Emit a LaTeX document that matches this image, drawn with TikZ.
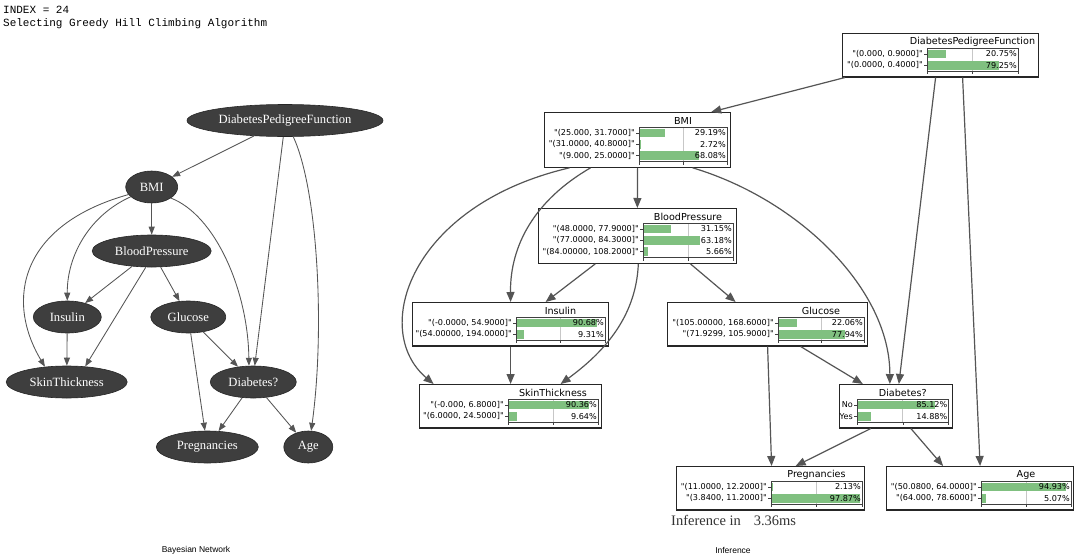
\documentclass[tikz,border=0pt]{standalone}
\usepackage{fontspec}
\setmainfont{Liberation Serif}
\newfontfamily\cpdfont[Ligatures=TeXOff]{DejaVu Sans}
\newfontfamily\codefont{Liberation Mono}
\newfontfamily\capfont{Liberation Sans}
\usetikzlibrary{shapes.geometric,arrows.meta}

\definecolor{bnfill}{HTML}{3E3E3E}
\definecolor{edgegray}{HTML}{555555}
\definecolor{bargreen}{RGB}{128,192,128}

\tikzset{
  bnnode/.style={ellipse, fill=bnfill, draw=black!85, line width=0.6pt, text=white,
    font=\fontsize{12.6}{14}\selectfont, inner sep=0pt, minimum height=32pt},
  bnedge/.style={draw=edgegray, line width=0.85pt, -{Triangle[length=8pt,width=6pt]}},
  rarrow/.style={draw=edgegray, line width=1.2pt, -{Triangle[length=10pt,width=8pt]}},
  cpdbox/.style={rectangle, draw=black!85, line width=1.2pt, fill=white, inner sep=0pt},
  cpdgrid/.style={draw=black!22, line width=0.7pt},
  cpdbar/.style={fill=bargreen},
  cpdaxis/.style={draw=black!75, line width=0.5pt},
  cpdlabel/.style={font=\cpdfont\fontsize{8.1}{10}\selectfont, inner sep=0pt},
  cpdtitle/.style={font=\cpdfont\fontsize{9.6}{11}\selectfont, inner sep=0pt},
}

% conditional probability table: name, left, top, right, axis left, axis right,
% title, number of rows, rows as {label}/percent
\newcommand\cpdtable[9]{%
  \pgfmathsetmacro\cpdbot{#3+21+11.3*(#8-1)+11}%
  \pgfmathsetmacro\cpdw{#4-#2}%
  \pgfmathsetmacro\cpdh{\cpdbot-#3}%
  \pgfmathsetmacro\cpdmid{(#5+#6)/2}%
  \pgfmathsetmacro\cpdtop{#3+15}%
  \pgfmathsetmacro\cpdax{#3+21+11.3*(#8-1)+6}%
  \node[cpdbox, minimum width=\cpdw pt, minimum height=\cpdh pt, anchor=north west] (#1) at (#2,#3) {};
  \draw[cpdgrid] (\cpdmid,\cpdtop) -- (\cpdmid,\cpdax);
  \foreach \lab/\pct [count=\i from 0] in {#9} {
    \pgfmathsetmacro\cpdy{#3+21+11.3*\i}
    \fill[cpdbar] (#5,\cpdy-4.3) rectangle ({#5+\pct/100*(#6-#5)},\cpdy+4.3);
    \draw[cpdaxis] (#5-3,\cpdy) -- (#5,\cpdy);
    \node[cpdlabel, anchor=east] at (#5-4,\cpdy) {\lab};
    \node[cpdlabel, anchor=east] at (#6-1,\cpdy) {\pct\%};
  }
  \draw[cpdaxis] (#5,\cpdtop) rectangle (#6,\cpdax);
  \foreach \xx in {#5,\cpdmid,#6} \draw[cpdaxis] (\xx,\cpdax) -- (\xx,\cpdax+3);
  \node[cpdtitle] at (\cpdmid,#3+9) {#7};
}

\begin{document}
\begin{tikzpicture}[x=1pt,y=-1pt]
\useasboundingbox (0,0) rectangle (1080,557);
\fill[white] (0,0) rectangle (1080,557);

% header lines
\node[anchor=base west, inner sep=0pt, font=\codefont\fontsize{11}{13}\selectfont] (hdrindex) at (3,13) {INDEX = 24};
\node[anchor=base west, inner sep=0pt, font=\codefont\fontsize{11}{13}\selectfont] (hdralgo) at (3,26.5) {Selecting Greedy Hill Climbing Algorithm};

% ---------- Bayesian network ----------
\node[bnnode, minimum width=196pt] (dpf)  at (285,120.5) {DiabetesPedigreeFunction};
\node[bnnode, minimum width=52pt]  (bmi)  at (151.7,187) {BMI};
\node[bnnode, minimum width=119pt] (bp)   at (151.7,251) {BloodPressure};
\node[bnnode, minimum width=68pt]  (ins)  at (67.3,317) {Insulin};
\node[bnnode, minimum width=75pt]  (glu)  at (188.3,317) {Glucose};
\node[bnnode, minimum width=121pt] (skin) at (66.7,382) {SkinThickness};
\node[bnnode, minimum width=86pt]  (dia)  at (253.3,382) {Diabetes?};
\node[bnnode, minimum width=102pt] (preg) at (207.3,447) {Pregnancies};
\node[bnnode, minimum width=49pt]  (age)  at (308.3,447) {Age};

\draw[bnedge] (dpf) -- (bmi);
\draw[bnedge] (dpf.264) -- (dia.85);
\draw[bnedge] (dpf.297) .. controls (318,190) and (325,330) .. (age.80);
\draw[bnedge] (bmi) -- (bp);
\draw[bnedge] (bmi.205) .. controls (90,215) and (67,255) .. (ins.north);
\draw[bnedge] (bmi.198) .. controls (20,225) and (5,300) .. (skin.145);
\draw[bnedge] (bmi.330) .. controls (215,215) and (248,290) .. (dia.105);
\draw[bnedge] (bp) -- (ins);
\draw[bnedge] (bp.250) -- (skin.40);
\draw[bnedge] (bp) -- (glu);
\draw[bnedge] (ins) -- (skin);
\draw[bnedge] (glu) -- (dia);
\draw[bnedge] (glu) -- (preg);
\draw[bnedge] (dia) -- (preg);
\draw[bnedge] (dia) -- (age);

% ---------- inference tables ----------
\cpdtable{tdpf}{842}{33}{1038}{927}{1018}{DiabetesPedigreeFunction}{2}{{"(0.000, 0.9000]"}/20.75, {"(0.0000, 0.4000]"}/79.25}
\cpdtable{tbmi}{544}{112}{730}{639}{727}{BMI}{3}{{"(25.000, 31.7000]"}/29.19, {"(31.0000, 40.8000]"}/2.72, {"(9.000, 25.0000]"}/68.08}
\cpdtable{tbp}{538}{208}{735.5}{643}{733}{BloodPressure}{3}{{"(48.0000, 77.9000]"}/31.15, {"(77.0000, 84.3000]"}/63.18, {"(84.00000, 108.2000]"}/5.66}
\cpdtable{tins}{412}{302}{608}{516}{605}{Insulin}{2}{{"(-0.0000, 54.9000]"}/90.68, {"(54.00000, 194.0000]"}/9.31}
\cpdtable{tglu}{667}{302}{867}{778}{864}{Glucose}{2}{{"(105.00000, 168.6000]"}/22.06, {"(71.9299, 105.9000]"}/77.94}
\cpdtable{tskin}{419}{384}{601}{508}{598}{SkinThickness}{2}{{"(-0.000, 6.8000]"}/90.36, {"(6.0000, 24.5000]"}/9.64}
\cpdtable{tdia}{839}{384}{951.5}{857}{948.5}{Diabetes?}{2}{No/85.12, Yes/14.88}
\cpdtable{tpreg}{676}{466}{864}{771}{862}{Pregnancies}{2}{{"(11.0000, 12.2000]"}/2.13, {"(3.8400, 11.2000]"}/97.87}
\cpdtable{tage}{886}{466}{1073}{981}{1071}{Age}{2}{{"(50.0800, 64.0000]"}/94.93, {"(64.000, 78.6000]"}/5.07}

\draw[rarrow] ([xshift=3pt]tdpf.south west) -- ([xshift=-20pt]tbmi.north east);
\draw[rarrow] ([xshift=-5pt]tdpf.south) -- ([xshift=3pt]tdia.north);
\draw[rarrow] ([xshift=22pt]tdpf.south) -- (tage.north);
\draw[rarrow] (tbmi.south) -- (tbp.north);
\draw[rarrow] ([xshift=-47pt]tbmi.south) .. controls (535,200) and (510,245) .. (tins.north);
\draw[rarrow] ([xshift=-68pt]tbmi.south) .. controls (410,205) and (370,330) .. ([xshift=-77pt]tskin.north);
\draw[rarrow] ([xshift=55pt]tbmi.south) .. controls (800,200) and (890,290) .. ([xshift=-6pt]tdia.north);
\draw[rarrow] ([xshift=-42pt]tbp.south) -- ([xshift=35pt]tins.north);
\draw[rarrow] ([xshift=1pt]tbp.south) .. controls (636,320) and (600,355) .. ([xshift=50pt]tskin.north);
\draw[rarrow] ([xshift=53pt]tbp.south) -- ([xshift=-32pt]tglu.north);
\draw[rarrow] (tins.south) -- (tskin.north);
\draw[rarrow] ([xshift=33pt]tglu.south) -- ([xshift=-33pt]tdia.north);
\draw[rarrow] (tglu.south) -- ([xshift=1pt]tpreg.north);
\draw[rarrow] ([xshift=-25pt]tdia.south) -- ([xshift=25pt]tpreg.north);
\draw[rarrow] ([xshift=15pt]tdia.south) -- ([xshift=-37pt]tage.north);

\node[anchor=base west, inner sep=0pt, text=black!80, font=\fontsize{14.5}{17}\selectfont] (timing) at (671,525) {Inference in\hspace{13pt}3.36ms};

% captions
\node[inner sep=0pt, font=\capfont\fontsize{8.5}{10}\selectfont] (capbn) at (196,550) {Bayesian Network};
\node[inner sep=0pt, font=\capfont\fontsize{8.5}{10}\selectfont] (capinf) at (733,550) {Inference};
\end{tikzpicture}
\end{document}
